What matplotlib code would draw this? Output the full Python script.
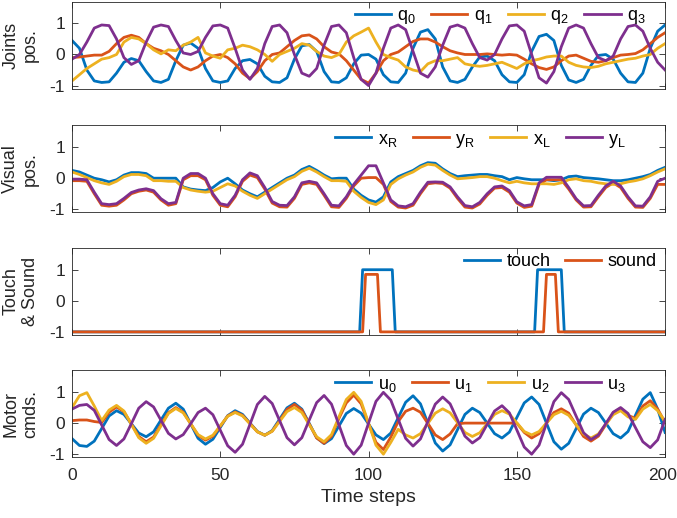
import numpy as np
import matplotlib
matplotlib.use("Agg")
import matplotlib.pyplot as plt
from matplotlib.transforms import ScaledTranslation

plt.rcParams['font.family'] = ['Liberation Sans', 'DejaVu Sans']
plt.rcParams['mathtext.fontset'] = 'custom'
plt.rcParams['mathtext.rm'] = 'Liberation Sans'
plt.rcParams['axes.unicode_minus'] = False

# time grid (every 2.5 steps) shared by the sampled series
steps = np.arange(0, 200.1, 2.5)

# --- joints positions ---
q0 = [0.45, 0.2, -0.5, -0.85, -0.9, -0.88, -0.6, -0.25, -0.13, -0.2,
      -0.55, -0.85, -0.9, -0.8, -0.2, 0.3, 0.37, 0.2, -0.45, -0.85,
      -0.9, -0.85, -0.45, -0.2, -0.16, -0.3, -0.7, -0.88, -0.9, -0.75,
      -0.15, 0.28, 0.32, 0.1, -0.55, -0.88, -0.9, -0.75, -0.3, -0.02,
      0.0, -0.15, -0.65, -0.88, -0.9, -0.6, 0.2, 0.72, 0.8, 0.5,
      -0.4, -0.85, -0.9, -0.8, -0.4, -0.08, -0.05, -0.2, -0.65, -0.88,
      -0.9, -0.65, 0.1, 0.58, 0.65, 0.45, -0.35, -0.82, -0.9, -0.8,
      -0.35, -0.03, 0.0, -0.15, -0.6, -0.88, -0.9, -0.6, 0.2, 0.75, 0.95]
q1 = [-0.1, -0.08, -0.05, -0.02, -0.02, 0.1, 0.35, 0.55, 0.62, 0.55,
      0.35, 0.2, 0.12, 0.0, -0.2, -0.4, -0.5, -0.4, -0.2, -0.05,
      0.0, -0.1, -0.3, -0.6, -0.78, -0.55, -0.2, 0.0, 0.05, 0.25,
      0.45, 0.6, 0.63, 0.5, 0.25, 0.08, 0.02, -0.2, -0.5, -0.8,
      -0.92, -0.6, -0.2, 0.0, 0.08, 0.25, 0.42, 0.5, 0.5, 0.4,
      0.25, 0.12, 0.05, 0.0, 0.0, 0.0, 0.02, 0.0, -0.02, 0.0,
      -0.02, -0.15, -0.3, -0.42, -0.48, -0.4, -0.2, -0.05, -0.02, -0.12,
      -0.22, -0.25, -0.2, -0.1, -0.02, 0.0, 0.03, 0.15, 0.35, 0.55, 0.7]
q2 = [-0.85, -0.65, -0.45, -0.3, -0.15, -0.1, 0.0, 0.4, 0.55, 0.5,
      0.35, 0.15, 0.02, 0.15, 0.12, 0.3, 0.4, 0.55, 0.05, -0.05,
      -0.12, 0.15, 0.2, 0.3, 0.25, 0.15, 0.0, -0.22, 0.0, 0.1,
      0.2, 0.35, 0.3, 0.1, -0.05, -0.1, 0.0, 0.4, 0.6, 0.72,
      0.85, 0.4, 0.0, -0.1, -0.18, -0.4, -0.5, -0.55, -0.3, -0.2,
      -0.2, -0.15, -0.1, -0.3, -0.35, -0.38, -0.35, -0.3, -0.25, -0.35,
      -0.45, -0.3, -0.2, -0.15, -0.08, -0.05, -0.05, -0.25, -0.35, -0.4,
      -0.42, -0.38, -0.3, -0.25, -0.2, -0.15, -0.12, -0.05, 0.0, 0.2, 0.35]
q3 = [-0.15, 0.0, 0.4, 0.85, 0.95, 0.93, 0.5, -0.1, -0.32, -0.2,
      0.4, 0.88, 0.95, 0.9, 0.45, 0.05, 0.0, 0.1, 0.55, 0.92,
      0.95, 0.85, 0.2, -0.5, -0.8, -0.45, 0.35, 0.9, 0.95, 0.7,
      0.0, -0.6, -0.7, -0.45, 0.3, 0.9, 0.95, 0.7, -0.1, -0.8,
      -1.0, -0.6, 0.2, 0.85, 0.95, 0.8, 0.1, -0.6, -0.73, -0.4,
      0.3, 0.88, 0.95, 0.85, 0.35, -0.1, -0.18, 0.0, 0.5, 0.92,
      0.95, 0.75, 0.0, -0.75, -0.92, -0.55, 0.25, 0.85, 0.95, 0.85,
      0.35, -0.1, -0.2, -0.05, 0.5, 0.9, 0.95, 0.75, 0.2, -0.25, -0.5]

# --- visual positions ---
x_r = [0.25, 0.2, 0.1, 0.0, -0.05, -0.12, -0.05, 0.1, 0.18, 0.18,
       0.15, 0.0, 0.0, 0.0, 0.0, -0.28, -0.35, -0.38, -0.4, -0.3,
       -0.12, 0.0, -0.18, -0.38, -0.5, -0.6, -0.45, -0.3, -0.15, 0.0,
       0.1, 0.28, 0.38, 0.25, 0.1, -0.02, 0.0, 0.0, -0.35, -0.55,
       -0.7, -0.77, -0.6, -0.12, 0.05, 0.15, 0.25, 0.4, 0.5, 0.48,
       0.3, 0.15, 0.05, 0.08, 0.1, 0.12, 0.12, 0.08, 0.05, -0.05,
       0.02, -0.02, -0.05, -0.05, -0.05, -0.08, -0.05, 0.05, 0.07, 0.02,
       0.0, -0.02, -0.05, -0.08, -0.08, -0.05, 0.0, 0.05, 0.12, 0.25, 0.35]
y_r = [-0.08, -0.08, -0.1, -0.5, -0.87, -0.9, -0.87, -0.7, -0.5, -0.42,
       -0.38, -0.45, -0.7, -0.87, -0.82, -0.05, 0.08, 0.08, -0.05, -0.55,
       -0.87, -0.92, -0.6, -0.1, 0.1, 0.02, -0.35, -0.8, -0.92, -0.93,
       -0.65, -0.2, -0.15, -0.2, -0.55, -0.92, -0.94, -0.65, -0.25, 0.0,
       0.02, 0.02, -0.2, -0.75, -0.93, -0.96, -0.87, -0.5, -0.18, -0.15,
       -0.17, -0.32, -0.65, -0.93, -0.96, -0.83, -0.55, -0.32, -0.3, -0.45,
       -0.8, -0.94, -0.9, -0.2, -0.05, -0.05, -0.05, -0.35, -0.7, -0.93,
       -0.92, -0.6, -0.3, -0.15, -0.3, -0.65, -0.93, -0.94, -0.65, -0.2, -0.2]
x_l = [0.2, 0.12, 0.02, -0.08, -0.15, -0.2, -0.1, 0.05, 0.12, 0.12,
       0.08, -0.08, -0.08, -0.1, -0.1, -0.3, -0.38, -0.42, -0.45, -0.42,
       -0.3, -0.18, -0.25, -0.42, -0.55, -0.65, -0.5, -0.35, -0.2, -0.05,
       0.05, 0.22, 0.32, 0.2, 0.05, -0.08, -0.08, -0.1, -0.42, -0.62,
       -0.78, -0.85, -0.7, -0.2, -0.02, 0.1, 0.2, 0.35, 0.45, 0.42,
       0.25, 0.1, -0.02, 0.0, 0.02, 0.05, 0.05, 0.0, -0.08, -0.15,
       -0.1, -0.15, -0.18, -0.18, -0.18, -0.2, -0.15, -0.05, -0.02, -0.08,
       -0.1, -0.15, -0.18, -0.2, -0.18, -0.12, -0.08, -0.02, 0.08, 0.2, 0.3]
y_l = [-0.03, -0.03, -0.05, -0.45, -0.82, -0.85, -0.82, -0.65, -0.46, -0.38,
       -0.34, -0.4, -0.66, -0.82, -0.78, 0.0, 0.15, 0.15, 0.0, -0.5,
       -0.82, -0.87, -0.55, -0.05, 0.17, 0.08, -0.3, -0.75, -0.87, -0.88,
       -0.6, -0.15, -0.1, -0.15, -0.5, -0.87, -0.89, -0.6, -0.2, 0.1,
       0.4, 0.4, -0.15, -0.7, -0.89, -0.92, -0.82, -0.45, -0.13, -0.12,
       -0.13, -0.28, -0.6, -0.88, -0.92, -0.78, -0.5, -0.28, -0.25, -0.4,
       -0.76, -0.89, -0.85, -0.15, 0.03, 0.03, 0.03, -0.3, -0.66, -0.89,
       -0.88, -0.55, -0.25, -0.1, -0.25, -0.6, -0.89, -0.9, -0.6, -0.1, 0.0]

# --- touch & sound (switching instants) ---
touch_t = [0, 97, 98, 108, 109, 156, 157, 165, 166, 200]
touch_v = [-1, -1, 1, 1, -1, -1, 1, 1, -1, -1]
sound_t = [0, 98, 99, 103, 104, 159, 160, 163, 164, 200]
sound_v = [-1, -1, 0.85, 0.85, -1, -1, 0.85, 0.85, -1, -1]

# --- motor commands ---
u0 = [-0.5, -0.72, -0.75, -0.58, -0.175, 0.23, 0.4, 0.28, -0.02, -0.32,
      -0.44, -0.28, 0.1, 0.48, 0.64, 0.45, -0.02, -0.49, -0.68, -0.52,
      -0.14, 0.24, 0.4, 0.28, 0.0, -0.27, -0.39, -0.24, 0.125, 0.49,
      0.64, 0.45, -0.01, -0.47, -0.66, -0.5, -0.095, 0.31, 0.47, 0.32,
      -0.03, -0.38, -0.53, -0.32, 0.175, 0.67, 0.88, 0.62, -0.01, -0.64,
      -0.9, -0.7, -0.21, 0.28, 0.48, 0.34, 0.0, -0.34, -0.48, -0.29,
      0.18, 0.65, 0.84, 0.6, 0.0, -0.6, -0.84, -0.65, -0.18, 0.29,
      0.48, 0.34, 0.0, -0.34, -0.48, -0.27, 0.25, 0.77, 0.98, 0.45, -0.3]
u1 = [0.08, 0.1, 0.1, 0.05, 0.02, 0.35, 0.52, 0.37, -0.03, -0.43,
      -0.6, -0.45, -0.05, 0.33, 0.5, 0.35, -0.02, -0.39, -0.55, -0.42,
      -0.1, 0.23, 0.36, 0.25, -0.01, -0.28, -0.39, -0.26, 0.08, 0.44,
      0.6, 0.42, -0.03, -0.48, -0.65, -0.42, 0.15, 0.65, 0.9, 0.62,
      -0.02, -0.62, -0.85, -0.45, 0.05, 0.38, 0.48, 0.35, -0.01, -0.38,
      -0.53, -0.35, -0.02, 0.0, 0.0, 0.0, 0.0, 0.0, 0.0, 0.0,
      0.0, -0.3, -0.48, -0.34, 0.0, 0.34, 0.46, 0.32, -0.06, -0.43,
      -0.58, -0.42, -0.05, 0.33, 0.48, 0.25, 0.15, 0.55, 0.72, 0.45, 0.02]
u2 = [0.5, 0.88, 0.98, 0.55, 0.08, 0.42, 0.57, 0.39, -0.04, -0.47,
      -0.65, -0.49, -0.09, 0.31, 0.47, 0.33, -0.02, -0.37, -0.51, -0.39,
      -0.085, 0.22, 0.34, 0.23, -0.025, -0.28, -0.39, -0.26, 0.055, 0.37,
      0.5, 0.34, -0.05, -0.44, -0.6, -0.37, 0.195, 0.76, 0.99, 0.7,
      -0.005, -0.71, -1.0, -0.62, -0.2, -0.38, -0.48, -0.34, -0.01, 0.32,
      0.46, 0.33, 0.015, -0.3, -0.43, -0.31, -0.015, 0.28, 0.4, 0.29,
      0.01, -0.27, -0.38, -0.27, 0.0, 0.27, 0.38, 0.25, -0.05, -0.35,
      -0.48, -0.35, -0.04, 0.27, 0.4, 0.2, 0.12, 0.45, 0.6, 0.4, 0.05]
u3 = [0.45, 0.57, 0.6, 0.41, -0.06, -0.53, -0.72, -0.51, -0.02, 0.48,
      0.69, 0.52, 0.09, -0.33, -0.51, -0.37, -0.02, 0.34, 0.48, 0.27,
      -0.23, -0.73, -0.94, -0.68, -0.04, 0.6, 0.86, 0.63, 0.08, -0.47,
      -0.7, -0.47, 0.1, 0.66, 0.89, 0.61, -0.055, -0.72, -1.0, -0.71,
      0.0, 0.7, 0.99, 0.74, 0.125, -0.49, -0.74, -0.51, 0.05, 0.61,
      0.84, 0.62, 0.1, -0.42, -0.64, -0.47, -0.04, 0.39, 0.56, 0.33,
      -0.22, -0.77, -1.0, -0.71, -0.01, 0.69, 0.98, 0.76, 0.225, -0.31,
      -0.53, -0.38, -0.015, 0.35, 0.5, 0.31, -0.145, -0.6, -0.79, -0.54, 0.12]

colors = ['#0072BD', '#D95319', '#EDB120', '#7E2F8E']
frame = '#262626'

fig = plt.figure(figsize=(6.77, 5.18), dpi=100)
left, width, height = 0.1064, 0.876, 0.168
bottoms = [0.8288, 0.590, 0.3533, 0.1172]
axes = [fig.add_axes([left, b, width, height]) for b in bottoms]

leg_kw = dict(loc='upper right', frameon=False, fontsize=13,
              handlelength=2.0, handletextpad=0.35, columnspacing=0.8,
              borderaxespad=0.1, borderpad=0.2)

panels = [
    (axes[0], [q0, q1, q2, q3], 'q', ['0', '1', '2', '3'], 'Joints\npos.', 0.978),
    (axes[1], [x_r, y_r, x_l, y_l], None, ['x$_\\mathrm{R}$ ', 'y$_\\mathrm{R}$ ',
                                           'x$_\\mathrm{L}$ ', 'y$_\\mathrm{L}$ '],
     'Visual\npos.', 0.945),
    (axes[3], [u0, u1, u2, u3], 'u', ['0', '1', '2', '3'], 'Motor\ncmds.', 0.945),
]

for ax, series, base, subs, ylab, anchor in panels:
    if base is None:
        labels = subs
    else:
        labels = [base + '$_\\mathrm{' + s + '}$ ' for s in subs]
    for s, c, lab in zip(series, colors, labels):
        ax.plot(steps, s, color=c, lw=2.0, label=lab)
    ax.legend(ncol=4, bbox_to_anchor=(anchor, 1.0), **leg_kw)
    ax.set_ylabel(ylab)

ax = axes[2]
ax.plot(touch_t, touch_v, color=colors[0], lw=2.0, label='touch')
ax.plot(sound_t, sound_v, color=colors[1], lw=2.0, label='sound')
ax.legend(ncol=2, bbox_to_anchor=(0.995, 1.0), **leg_kw)
ax.set_ylabel('Touch\n& Sound')

for i, ax in enumerate(axes):
    ax.set_xlim(0, 200)
    ax.set_ylim(-1.1, 1.7)
    ax.set_yticks([-1, 0, 1])
    ax.set_xticks([0, 50, 100, 150, 200])
    ax.tick_params(direction='in', top=True, right=True, length=4,
                   width=0.6, color=frame, labelcolor=frame, labelsize=12.5)
    ax.tick_params(axis='y', pad=5)
    ax.tick_params(axis='x', pad=8)
    for sp in ax.spines.values():
        sp.set_color(frame)
        sp.set_linewidth(0.6)
    ax.yaxis.label.set_size(13)
    ax.yaxis.label.set_color(frame)
    ax.yaxis.set_label_coords(-0.056, 0.5)
    if i < 3:
        ax.set_xticklabels([])

axes[3].set_xlabel('Time steps', fontsize=14, color=frame, labelpad=4)

# keep the last x tick label inside the figure
last = axes[3].xaxis.get_major_ticks()[-1]
last.label1.set_transform(last.label1.get_transform() +
                          ScaledTranslation(-3 / 100, 0, fig.dpi_scale_trans))

fig.savefig('out.png', dpi=100)
